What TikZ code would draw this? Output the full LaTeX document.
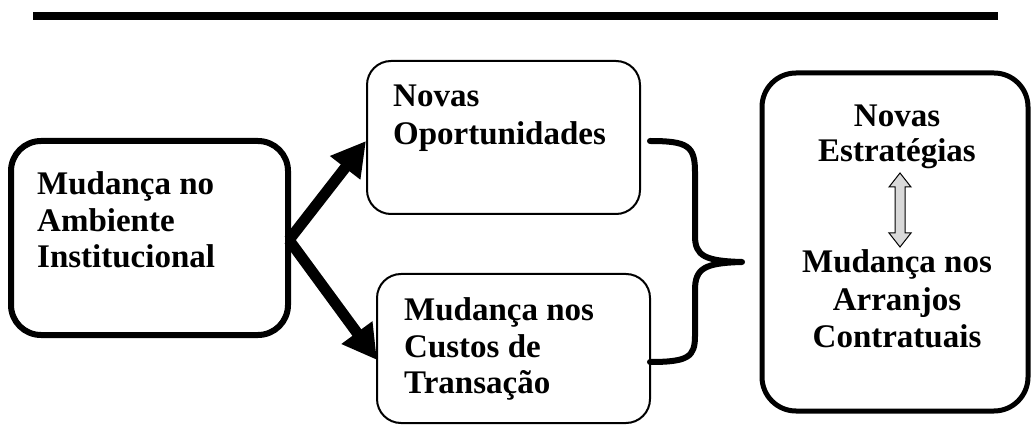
\documentclass[tikz,border=0pt]{standalone}
\usepackage{fontspec}
\setmainfont{Liberation Serif}
\usetikzlibrary{arrows.meta}
\begin{document}
\begin{tikzpicture}[x=1pt,y=-1pt,
  lbl/.style={font=\bfseries\fontsize{33}{37}\selectfont, inner sep=0pt, anchor=base west},
  lblc/.style={font=\bfseries\fontsize{33}{37}\selectfont, inner sep=0pt, anchor=base},
  boxthin/.style={draw, line width=2pt, rounded corners=24pt},
  bigarrow/.style={line width=11pt, -{Triangle[length=34pt,width=36pt]}}]
\useasboundingbox (0,0) rectangle (1035,427);
% top rule
\fill (33,12) rectangle (998,20);
% boxes
\draw[line width=6pt, rounded corners=30pt] (11,141) rectangle (288,335);
\coordinate (lb) at (289,240);
\draw[boxthin] (367,61) rectangle (640,214);
\draw[boxthin] (377,274) rectangle (650,423);
\draw[line width=5pt, rounded corners=34pt] (762,73) rectangle (1028,411);
% labels
\node[lbl] (t1) at (37,195) {Mudança no};
\node[lbl] (t2) at (37,232) {Ambiente};
\node[lbl] (t3) at (37,268) {Institucional};
\node[lbl] (n1) at (393,107) {Novas};
\node[lbl] (n2) at (393,145) {Oportunidades};
\node[lbl] (c1) at (404,320) {Mudança nos};
\node[lbl] (c2) at (404,357) {Custos de};
\node[lbl] (c3) at (404,393) {Transação};
\node[lblc] (e1) at (897,127) {Novas};
\node[lblc] (e2) at (897,162) {Estratégias};
\node[lblc] (m1) at (897,273) {Mudança nos};
\node[lblc] (m2) at (897,310) {Arranjos};
\node[lblc] (m3) at (897,347) {Contratuais};
% arrows
\coordinate (up) at (366,141);
\coordinate (dn) at (377,360);
\draw[bigarrow] (lb) -- (up);
\draw[bigarrow] (lb) -- (dn);
% brace
\draw[line width=6pt, line cap=round, line join=round]
  (650,141) .. controls (688,141) and (695,146) .. (695,172) -- (695,236)
  .. controls (695,256) and (705,261) .. (742,262)
  .. controls (705,263) and (695,268) .. (695,290) -- (695,336)
  .. controls (695,357) and (688,362) .. (650,362);
% double arrow
\draw[fill=gray!30, line width=1pt, line join=miter]
  (900,173) -- (889,187) -- (895,187) -- (895,233) -- (889,233) -- (900,247)
  -- (911,233) -- (905,233) -- (905,187) -- (911,187) -- cycle;
\end{tikzpicture}
\end{document}
